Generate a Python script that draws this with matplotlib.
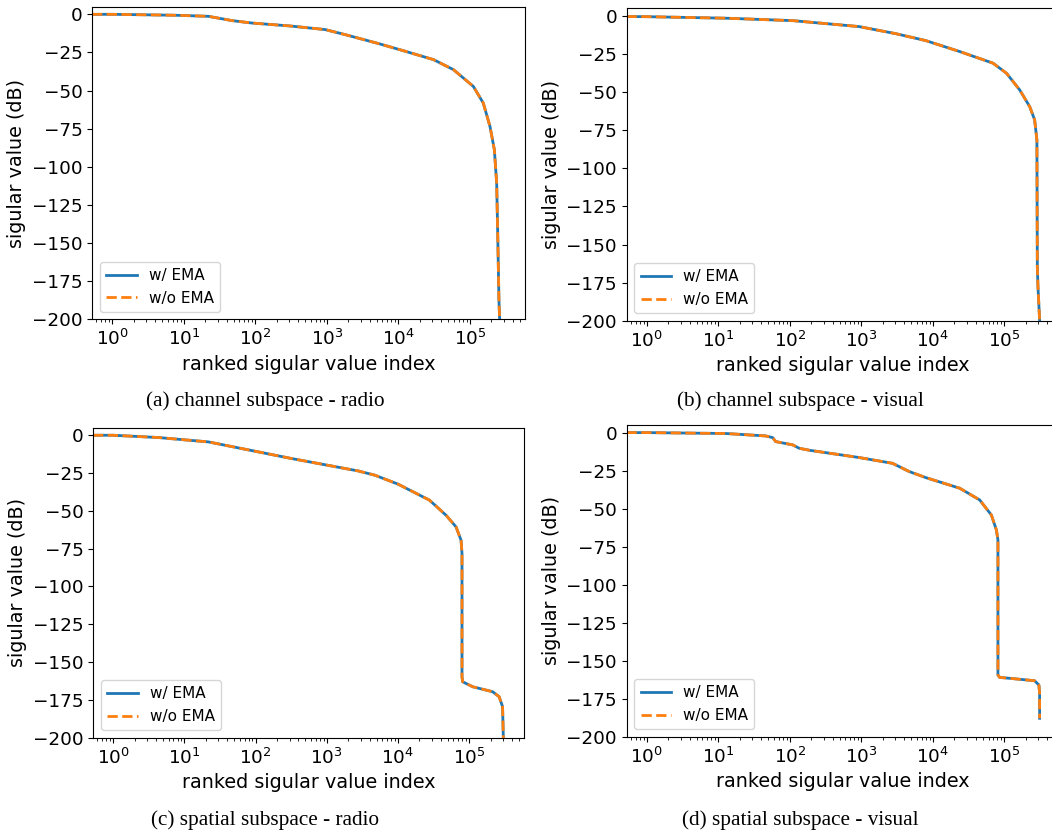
import matplotlib
matplotlib.use("Agg")
import matplotlib.pyplot as plt

# (w/ EMA and w/o EMA overlap completely)
a_x = [0.52, 1, 7.5, 22, 47, 89, 300, 948, 1.8e3, 5.3e3, 1.05e4, 3.1e4, 5.9e4,
       1.12e5, 1.54e5, 1.91e5, 2.2e5, 2.37e5, 2.45e5, 2.55e5, 2.62e5]
a_y = [0, 0, -0.6, -1.3, -4.1, -5.7, -7.6, -10, -13.3, -19.2, -23.2, -29.7, -36.3,
       -47.3, -58.2, -73.5, -88.8, -110.7, -143.5, -187.3, -203]

b_x = [0.52, 1, 12.8, 110, 930, 3e3, 7.96e3, 2.38e4, 6.93e4, 1.07e5, 1.64e5,
       2.26e5, 2.65e5, 2.85e5, 2.89e5, 2.95e5, 3.11e5, 3.14e5]
b_y = [-0.4, -0.5, -1.5, -3.1, -7, -11.6, -16.2, -23.4, -31, -37.6, -48.6,
       -59.5, -68.2, -81.4, -164.6, -177.7, -199.5, -203]

c_x = [0.52, 1, 4.3, 21.8, 64, 321, 2.77e3, 4.73e3, 1e4, 2.77e4, 4.74e4, 6.55e4,
       7.7e4, 7.94e4, 7.94e4, 8.1e4, 1.12e5, 2.14e5, 2.64e5, 2.95e5, 3.02e5, 3.02e5]
c_y = [0, 0, -1.5, -4.4, -8.8, -15.4, -23.6, -26.4, -32.3, -42.9, -52.9, -60.6,
       -69.4, -78.2, -159.7, -163, -166.3, -169.6, -172.9, -179.5, -199.3, -203]

d_x = [0.52, 1, 12.8, 46, 57.5, 63.4, 110, 135, 187, 932, 2.73e3, 4.66e3, 7.96e3,
       2.38e4, 4.52e4, 6.58e4, 7.73e4, 8.13e4, 8.13e4, 8.6e4, 1.19e5, 2.65e5,
       3.04e5, 3.11e5, 3.11e5]
d_y = [0, 0, -0.6, -2.2, -3.3, -5.9, -8.1, -10.3, -11.6, -16.4, -20.2, -25.6, -29.6,
       -36.6, -44.3, -54.2, -64, -70.6, -159.4, -161, -161.6, -163.2,
       -166, -171.5, -187.9]

captions = ["(a) channel subspace - radio", "(b) channel subspace - visual",
            "(c) spatial subspace - radio", "(d) spatial subspace - visual"]

W, H = 1052, 832
fig = plt.figure(figsize=(W / 100, H / 100), dpi=100)

# axes boxes in pixels: left, top, right, bottom
boxes = [(92.3, 6.7, 525.0, 319.3),
         (626.8, 8.3, 1059.5, 320.7),
         (93.3, 427.7, 524.0, 737.7),
         (626.8, 425.0, 1059.5, 736.7)]
cap_pos = [(265.4, 401), (800.6, 401), (265.4, 820), (800.6, 820)]
curves = [(a_x, a_y), (b_x, b_y), (c_x, c_y), (d_x, d_y)]

for (l, t, r, b), (xs, ys), cap, (cx, cy) in zip(boxes, curves, captions, cap_pos):
    ax = fig.add_axes([l / W, 1 - b / H, (r - l) / W, (b - t) / H])
    ax.plot(xs, ys, color="C0", lw=2, label="w/ EMA")
    ax.plot(xs, ys, color="C1", lw=2, ls="--", label="w/o EMA")
    ax.set_xscale("log")
    ax.set_xlim(0.525, 5.9e5)
    ax.set_ylim(-200, 5)
    ax.set_yticks(range(-200, 1, 25))
    ax.set_xlabel("ranked sigular value index", fontsize=13.8)
    ax.set_ylabel("sigular value (dB)", fontsize=13.8)
    ax.tick_params(labelsize=13.2)
    ax.legend(loc="lower left", fontsize=11)
    fig.text(cx / W, 1 - cy / H, cap, ha="center", va="center", fontsize=15.3,
             family=["Liberation Serif", "DejaVu Serif"])

fig.savefig("out.png", dpi=100)
